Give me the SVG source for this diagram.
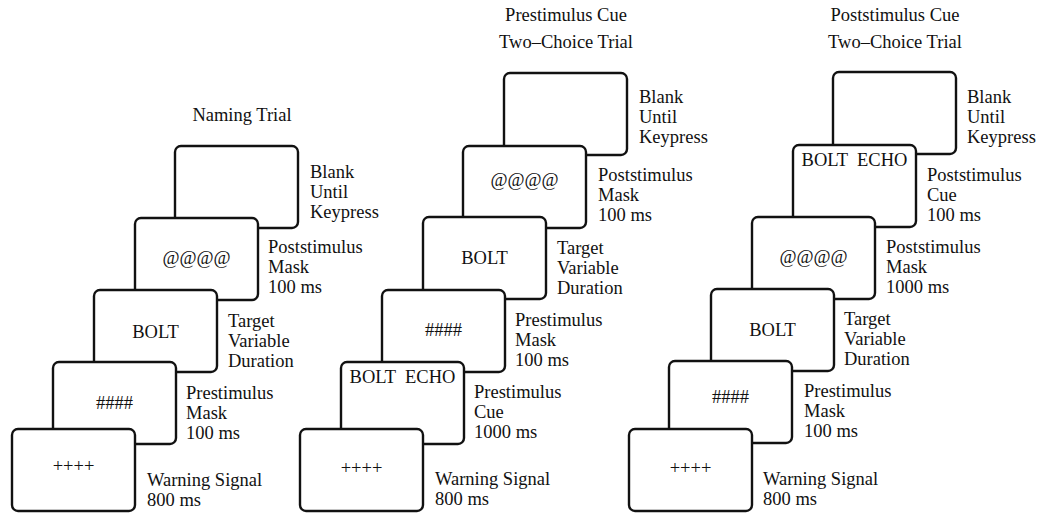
<svg xmlns="http://www.w3.org/2000/svg" width="1040" height="514" viewBox="0 0 1040 514">
<style>
text{font-family:"Liberation Serif","Times New Roman",serif;font-size:18.5px;fill:#111}
.box{fill:#fff;stroke:#111;stroke-width:2.4}
.c{text-anchor:middle}
</style>
<rect width="1040" height="514" fill="#fff"/>
<g id="connectors"></g>
<!-- titles -->
<g id="titles">
<text class="c" x="242" y="121">Naming Trial</text>
<text class="c" x="566" y="21">Prestimulus Cue</text>
<text class="c" x="566" y="48">Two–Choice Trial</text>
<text class="c" x="895" y="21">Poststimulus Cue</text>
<text class="c" x="895" y="48">Two–Choice Trial</text>
</g>
<!-- Panel 1: Naming Trial -->
<g id="p1-blank"><rect class="box" x="175" y="146" width="123" height="82" rx="6"/>
<text x="310" y="178">Blank</text><text x="310" y="198">Until</text><text x="310" y="218">Keypress</text></g>
<g id="p1-postmask"><rect class="box" x="135" y="218" width="123" height="82" rx="6"/>
<text class="c" x="196.5" y="264">@@@@</text>
<text x="268" y="253">Poststimulus</text><text x="268" y="273">Mask</text><text x="268" y="293">100 ms</text></g>
<g id="p1-target"><rect class="box" x="94" y="290" width="123" height="82" rx="6"/>
<text class="c" x="155.5" y="338">BOLT</text>
<text x="228" y="327">Target</text><text x="228" y="347">Variable</text><text x="228" y="367">Duration</text></g>
<g id="p1-premask"><rect class="box" x="53" y="362" width="123" height="82" rx="6"/>
<text class="c" x="114.5" y="409">####</text>
<text x="186" y="399">Prestimulus</text><text x="186" y="419">Mask</text><text x="186" y="439">100 ms</text></g>
<g id="p1-warning"><rect class="box" x="12" y="429" width="123" height="82" rx="6"/>
<text class="c" x="73.5" y="472">++++</text>
<text x="147" y="486">Warning Signal</text><text x="147" y="506">800 ms</text></g>
<!-- Panel 2: Prestimulus Cue -->
<g id="p2-blank"><rect class="box" x="504" y="73" width="123" height="82" rx="6"/>
<text x="639" y="103">Blank</text><text x="639" y="123">Until</text><text x="639" y="143">Keypress</text></g>
<g id="p2-postmask"><rect class="box" x="463" y="146" width="123" height="82" rx="6"/>
<text class="c" x="524.5" y="186">@@@@</text>
<text x="598" y="181">Poststimulus</text><text x="598" y="201">Mask</text><text x="598" y="221">100 ms</text></g>
<g id="p2-target"><rect class="box" x="423" y="217" width="123" height="82" rx="6"/>
<text class="c" x="484.5" y="264">BOLT</text>
<text x="557" y="254">Target</text><text x="557" y="274">Variable</text><text x="557" y="294">Duration</text></g>
<g id="p2-premask"><rect class="box" x="382" y="290" width="123" height="82" rx="6"/>
<text class="c" x="443.5" y="336">####</text>
<text x="515" y="326">Prestimulus</text><text x="515" y="346">Mask</text><text x="515" y="366">100 ms</text></g>
<g id="p2-cue"><rect class="box" x="341" y="362" width="123" height="82" rx="6"/>
<text class="c" x="402.5" y="383" xml:space="preserve">BOLT  ECHO</text>
<text x="474" y="398">Prestimulus</text><text x="474" y="418">Cue</text><text x="474" y="438">1000 ms</text></g>
<g id="p2-warning"><rect class="box" x="300" y="429" width="123" height="82" rx="6"/>
<text class="c" x="361.5" y="474">++++</text>
<text x="435" y="485">Warning Signal</text><text x="435" y="505">800 ms</text></g>
<!-- Panel 3: Poststimulus Cue -->
<g id="p3-blank"><rect class="box" x="833" y="72" width="123" height="82" rx="6"/>
<text x="967" y="103">Blank</text><text x="967" y="123">Until</text><text x="967" y="143">Keypress</text></g>
<g id="p3-cue"><rect class="box" x="793" y="145" width="123" height="82" rx="6"/>
<text class="c" x="854.5" y="166" xml:space="preserve">BOLT  ECHO</text>
<text x="927" y="181">Poststimulus</text><text x="927" y="201">Cue</text><text x="927" y="221">100 ms</text></g>
<g id="p3-postmask"><rect class="box" x="752" y="217" width="123" height="82" rx="6"/>
<text class="c" x="813.5" y="263">@@@@</text>
<text x="886" y="253">Poststimulus</text><text x="886" y="273">Mask</text><text x="886" y="293">1000 ms</text></g>
<g id="p3-target"><rect class="box" x="711" y="289" width="123" height="82" rx="6"/>
<text class="c" x="772.5" y="336">BOLT</text>
<text x="844" y="325">Target</text><text x="844" y="345">Variable</text><text x="844" y="365">Duration</text></g>
<g id="p3-premask"><rect class="box" x="669" y="361" width="123" height="82" rx="6"/>
<text class="c" x="730.5" y="403">####</text>
<text x="804" y="397">Prestimulus</text><text x="804" y="417">Mask</text><text x="804" y="437">100 ms</text></g>
<g id="p3-warning"><rect class="box" x="629" y="429" width="123" height="82" rx="6"/>
<text class="c" x="690.5" y="474">++++</text>
<text x="763" y="485">Warning Signal</text><text x="763" y="505">800 ms</text></g>
</svg>
